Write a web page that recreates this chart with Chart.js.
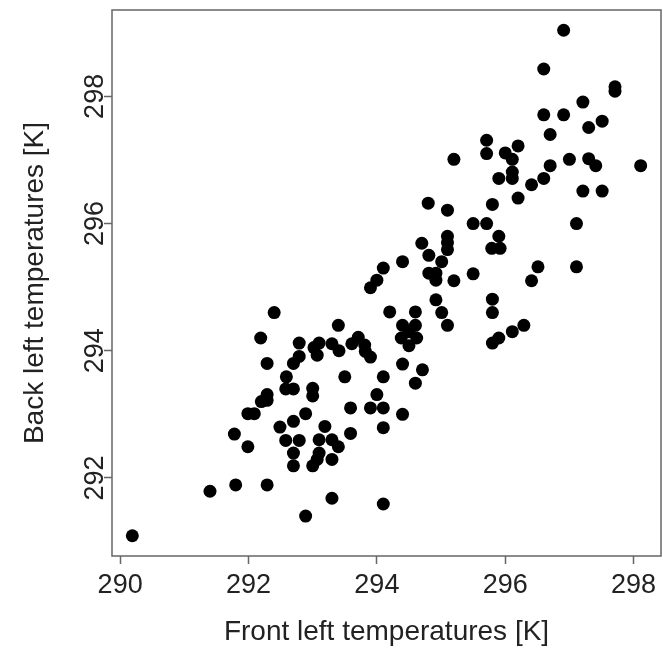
<!DOCTYPE html>
<html>
<head>
<meta charset="utf-8">
<script src="https://cdn.jsdelivr.net/npm/chart.js@4.4.1/dist/chart.umd.min.js"></script>
<style>
  html, body { margin: 0; padding: 0; background: #fff; }
  #wrap { width: 663px; height: 654px; }
</style>
</head>
<body>
<div id="wrap"><canvas id="graphic"></canvas></div>
<script>
// front left (x) and back left (y) temperatures in K
const frontTemps = [
  296.91, 296.60, 297.71, 297.71, 297.21, 296.60, 296.91, 297.51, 297.30, 296.70,
  297.00, 297.30, 297.41, 296.70, 298.11, 296.60, 297.21, 297.51, 297.11, 296.51,
  297.11, 295.71, 295.71, 296.20, 296.00, 296.11, 296.11, 296.11, 295.90, 296.41,
  296.20, 295.20, 295.80, 295.10, 295.50, 295.71, 295.90, 295.79, 295.92, 295.10,
  295.10, 295.10, 295.01, 294.92, 295.20, 295.50, 296.41, 295.80, 295.80, 295.01,
  295.10, 296.29, 296.11, 295.90, 295.80, 294.92, 294.70, 294.81, 294.40, 294.10,
  294.00, 293.90, 294.81, 294.92, 294.20, 294.60, 294.40, 294.60, 294.50, 294.38,
  294.62, 294.50, 293.40, 293.10, 293.30, 293.41, 293.61, 293.71, 293.81, 293.82,
  293.90, 294.40, 294.71, 294.60, 293.50, 294.10, 294.00, 293.59, 293.90, 294.10,
  294.40, 294.10, 293.59, 293.19, 293.10, 293.30, 293.40, 293.10, 293.30, 293.30,
  294.10, 292.40, 292.19, 292.29, 292.79, 293.02, 293.07, 292.79, 292.70, 292.59,
  292.58, 292.70, 293.00, 293.00, 292.29, 292.20, 292.29, 291.99, 292.09, 292.70,
  292.89, 292.49, 291.78, 291.99, 292.58, 292.79, 292.70, 292.70, 293.00, 293.07,
  291.40, 291.80, 292.29, 292.89, 290.19, 294.80
];
const backTemps = [
  299.04, 298.43, 298.15, 298.08, 297.91, 297.71, 297.71, 297.61, 297.51, 297.40,
  297.01, 297.02, 296.91, 296.91, 296.91, 296.71, 296.51, 296.51, 296.00, 295.32,
  295.32, 297.31, 297.10, 297.22, 297.11, 297.01, 296.81, 296.71, 296.71, 296.61,
  296.40, 297.01, 296.30, 296.21, 296.00, 296.00, 295.80, 295.61, 295.61, 295.80,
  295.70, 295.59, 295.40, 295.22, 295.10, 295.21, 295.10, 294.81, 294.60, 294.60,
  294.40, 294.40, 294.30, 294.20, 294.12, 294.80, 295.69, 295.50, 295.40, 295.30,
  295.11, 294.99, 295.22, 295.11, 294.61, 294.61, 294.40, 294.40, 294.30, 294.20,
  294.20, 294.08, 294.40, 294.12, 294.11, 294.00, 294.11, 294.21, 294.09, 293.99,
  293.90, 293.79, 293.70, 293.49, 293.59, 293.59, 293.31, 293.10, 293.10, 293.10,
  293.00, 292.79, 292.70, 292.81, 292.60, 292.60, 292.49, 292.39, 292.29, 291.68,
  291.59, 294.60, 294.20, 293.80, 294.12, 294.05, 293.93, 293.91, 293.80, 293.59,
  293.40, 293.40, 293.41, 293.29, 293.31, 293.20, 293.22, 293.01, 293.01, 292.89,
  293.01, 292.80, 292.69, 292.49, 292.59, 292.59, 292.39, 292.19, 292.19, 292.29,
  291.79, 291.89, 291.89, 291.40, 291.09, 296.32
];
const xTicks = [290, 292, 294, 296, 298];
const yTicks = [292, 294, 296, 298];

// R style axis range: data range extended by 4% on each side
function rRange(vals) {
  const lo = Math.min(...vals), hi = Math.max(...vals);
  const d = (hi - lo) * 0.04;
  return [lo - d, hi + d];
}
const [xMin, xMax] = rRange(frontTemps);
const [yMin, yMax] = rRange(backTemps);

const points = frontTemps.map((x, i) => ({ x: x, y: backTemps[i] }));

const FONT = "'Liberation Sans', Arial, Helvetica, sans-serif";
const axisGrey = '#666';

// frame round the plot region, like R's box()
const boxPlugin = {
  id: 'box',
  afterDraw(chart) {
    const a = chart.chartArea;
    const ctx = chart.ctx;
    ctx.save();
    ctx.strokeStyle = axisGrey;
    ctx.lineWidth = 1.5;
    ctx.strokeRect(a.left, a.top, a.right - a.left, a.bottom - a.top);
    ctx.restore();
  }
};

const graphic = document.getElementById('graphic');
const chart = new Chart(graphic, {
  type: 'scatter',
  data: {
    datasets: [{
      data: points,
      backgroundColor: '#000',
      borderColor: '#000',
      pointRadius: 6.5,
      pointBorderWidth: 0
    }]
  },
  options: {
    responsive: true,
    maintainAspectRatio: false,
    animation: false,
    layout: { autoPadding: false, padding: { top: 10, right: 2, left: 0, bottom: 0 } },
    plugins: { legend: { display: false }, tooltip: { enabled: false } },
    scales: {
      x: {
        type: 'linear',
        min: xMin,
        max: xMax,
        afterBuildTicks: s => { s.ticks = xTicks.map(v => ({ value: v })); },
        afterFit: s => { s.height = 98; s.paddingLeft = 0; s.paddingRight = 0; },
        border: { display: false },
        grid: { drawOnChartArea: false, drawTicks: true, tickLength: 8, tickColor: axisGrey, tickWidth: 1.5 },
        ticks: { color: '#222', font: { family: FONT, size: 27 }, padding: 5, maxRotation: 0 },
        title: { display: true, text: 'Front left temperatures [K]', color: '#222',
                 font: { family: FONT, size: 28 }, padding: { top: 0, bottom: 5 } }
      },
      y: {
        type: 'linear',
        min: yMin,
        max: yMax,
        afterBuildTicks: s => { s.ticks = yTicks.map(v => ({ value: v })); },
        afterFit: s => { s.width = 112; s.paddingTop = 0; s.paddingBottom = 0; },
        border: { display: false },
        grid: { drawOnChartArea: false, drawTicks: true, tickLength: 8, tickColor: axisGrey, tickWidth: 1.5 },
        ticks: { color: '#222', font: { family: FONT, size: 27 }, padding: -14,
                 minRotation: 90, maxRotation: 90, crossAlign: 'center' },
        title: { display: true, text: 'Back left temperatures [K]', color: '#222',
                 font: { family: FONT, size: 28 }, padding: { top: 18, bottom: 0 } }
      }
    }
  },
  plugins: [boxPlugin]
});
</script>
</body>
</html>
